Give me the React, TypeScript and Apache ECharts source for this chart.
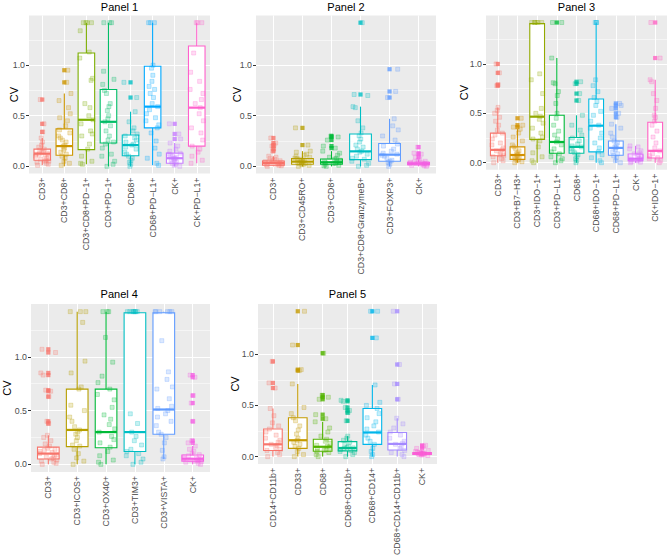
import React, { useEffect, useRef } from "react";
import * as echarts from "echarts";

// ---------------- DATA ----------------
// box stats: [lower whisker, Q1, median, Q3, upper whisker]
const P1_CATS = ["CD3+", "CD3+CD8+", "CD3+CD8+PD\u22121+", "CD3+PD\u22121+", "CD68+", "CD68+PD\u2212L1+", "CK+", "CK+PD\u2212L1+"];
const P1_BOX = [
  [0.01, 0.06, 0.125, 0.17, 0.28],
  [0.0, 0.11, 0.2, 0.37, 0.72],
  [0.02, 0.165, 0.46, 1.12, 1.42],
  [0.0, 0.23, 0.44, 0.76, 1.42],
  [0.0, 0.105, 0.21, 0.31, 0.54],
  [0.01, 0.38, 0.59, 0.99, 1.42],
  [0.0, 0.03, 0.08, 0.13, 0.23],
  [0.03, 0.2, 0.58, 1.19, 1.42],
];
const P1_OUT = [[0.34, 0.42, 0.66], [0.83, 0.95], [], [], [0.68, 0.83], [], [0.27, 0.32, 0.42], []];
const P1_PTS = [
  [0.01, 0.02, 0.03, 0.04, 0.05, 0.05, 0.06, 0.07, 0.08, 0.09, 0.1, 0.11, 0.12, 0.12, 0.13, 0.14, 0.15, 0.16, 0.17, 0.19, 0.21, 0.24, 0.28, 0.34, 0.42, 0.66],
  [0.01, 0.03, 0.05, 0.08, 0.1, 0.12, 0.14, 0.16, 0.18, 0.2, 0.21, 0.24, 0.26, 0.28, 0.3, 0.33, 0.36, 0.4, 0.45, 0.48, 0.52, 0.58, 0.65, 0.72, 0.83, 0.95],
  [0.02, 0.03, 0.05, 0.1, 0.17, 0.22, 0.3, 0.32, 0.35, 0.42, 0.46, 0.5, 0.58, 0.62, 0.85, 0.87, 1.07, 1.13, 1.34, 1.42, 1.42, 1.42, 1.42],
  [0.0, 0.02, 0.05, 0.1, 0.12, 0.18, 0.22, 0.24, 0.26, 0.3, 0.35, 0.4, 0.44, 0.47, 0.5, 0.55, 0.59, 0.62, 0.72, 0.75, 0.81, 0.86, 0.94, 1.42, 1.42, 1.42],
  [0.0, 0.02, 0.04, 0.06, 0.08, 0.1, 0.12, 0.14, 0.17, 0.19, 0.21, 0.22, 0.24, 0.26, 0.28, 0.3, 0.32, 0.35, 0.38, 0.44, 0.54, 0.68, 0.83],
  [0.01, 0.03, 0.08, 0.12, 0.18, 0.25, 0.33, 0.38, 0.41, 0.45, 0.48, 0.52, 0.56, 0.59, 0.62, 0.68, 0.72, 0.76, 0.79, 0.84, 0.9, 0.97, 1.0, 1.42, 1.42, 1.42],
  [0.0, 0.01, 0.02, 0.03, 0.04, 0.05, 0.06, 0.07, 0.08, 0.08, 0.09, 0.1, 0.11, 0.12, 0.13, 0.15, 0.17, 0.2, 0.23, 0.27, 0.32, 0.42],
  [0.03, 0.06, 0.1, 0.14, 0.17, 0.2, 0.26, 0.33, 0.38, 0.45, 0.52, 0.58, 0.62, 0.66, 0.72, 0.76, 0.84, 0.93, 1.12, 1.42, 1.42, 1.42],
];

const P2_CATS = ["CD3+", "CD3+CD45RO+", "CD3+CD8+", "CD3+CD8+GranzymeB+", "CD3+FOXP3+", "CK+"];
const P2_BOX = [
  [0.0, 0.01, 0.033, 0.053, 0.1],
  [0.0, 0.02, 0.046, 0.076, 0.15],
  [0.0, 0.02, 0.04, 0.072, 0.15],
  [0.0, 0.066, 0.148, 0.32, 0.59],
  [0.0, 0.05, 0.115, 0.225, 0.47],
  [0.0, 0.016, 0.026, 0.04, 0.07],
];
const P2_OUT = [[0.15, 0.17, 0.2, 0.21, 0.23, 0.28], [0.21, 0.38], [0.18, 0.2, 0.26, 0.29, 0.3], [0.71, 1.42], [0.68, 0.74, 0.96], [0.09, 0.12, 0.13, 0.19]];
const P2_PTS = [
  [0.0, 0.005, 0.01, 0.015, 0.02, 0.02, 0.025, 0.03, 0.03, 0.035, 0.04, 0.04, 0.045, 0.05, 0.055, 0.06, 0.07, 0.08, 0.09, 0.1, 0.15, 0.17, 0.2, 0.21, 0.23, 0.28],
  [0.0, 0.01, 0.015, 0.02, 0.025, 0.03, 0.035, 0.04, 0.045, 0.05, 0.055, 0.06, 0.07, 0.075, 0.08, 0.09, 0.1, 0.11, 0.12, 0.14, 0.15, 0.21, 0.38],
  [0.0, 0.005, 0.01, 0.02, 0.025, 0.03, 0.035, 0.04, 0.045, 0.05, 0.06, 0.07, 0.08, 0.09, 0.11, 0.13, 0.15, 0.18, 0.2, 0.26, 0.29, 0.3],
  [0.0, 0.01, 0.03, 0.05, 0.07, 0.08, 0.1, 0.12, 0.14, 0.15, 0.17, 0.19, 0.21, 0.24, 0.27, 0.3, 0.33, 0.38, 0.45, 0.58, 0.59, 0.7, 0.71, 1.42],
  [0.0, 0.02, 0.04, 0.05, 0.06, 0.08, 0.1, 0.11, 0.12, 0.13, 0.15, 0.17, 0.2, 0.22, 0.26, 0.3, 0.36, 0.4, 0.47, 0.68, 0.74, 0.96],
  [0.0, 0.005, 0.01, 0.015, 0.02, 0.02, 0.025, 0.025, 0.03, 0.03, 0.035, 0.04, 0.045, 0.05, 0.06, 0.07, 0.09, 0.12, 0.13, 0.19],
];

const P3_CATS = ["CD3+", "CD3+B7\u2212H3+", "CD3+IDO\u22121+", "CD3+PD\u2212L1+", "CD68+", "CD68+IDO\u22121+", "CD68+PD\u2212L1+", "CK+", "CK+IDO\u22121+"];
const P3_BOX = [
  [0.0, 0.07, 0.13, 0.3, 0.56],
  [0.0, 0.034, 0.078, 0.16, 0.34],
  [0.0, 0.236, 0.466, 1.41, 1.42],
  [0.0, 0.095, 0.21, 0.48, 1.06],
  [0.0, 0.095, 0.16, 0.255, 0.48],
  [0.0, 0.11, 0.375, 0.645, 1.42],
  [0.0, 0.075, 0.15, 0.22, 0.39],
  [0.0, 0.02, 0.04, 0.088, 0.17],
  [0.0, 0.047, 0.12, 0.41, 0.84],
];
const P3_OUT = [[0.78, 0.79, 0.91, 1.0], [0.36, 0.38, 0.45], [], [1.42], [0.63, 0.7, 0.8, 0.82], [], [0.46, 0.5, 0.55, 0.58, 0.6], [], [1.06, 1.42]];
const P3_PTS = [
  [0.0, 0.02, 0.04, 0.06, 0.07, 0.08, 0.1, 0.12, 0.13, 0.15, 0.18, 0.2, 0.24, 0.28, 0.3, 0.33, 0.38, 0.42, 0.46, 0.5, 0.53, 0.56, 0.78, 0.79, 0.91, 1.0],
  [0.0, 0.01, 0.02, 0.03, 0.04, 0.05, 0.06, 0.07, 0.08, 0.09, 0.1, 0.12, 0.14, 0.16, 0.18, 0.22, 0.26, 0.3, 0.34, 0.36, 0.38, 0.45],
  [0.0, 0.02, 0.06, 0.1, 0.16, 0.22, 0.24, 0.26, 0.3, 0.35, 0.4, 0.44, 0.47, 0.5, 0.55, 0.7, 0.84, 0.9, 1.42, 1.42, 1.42, 1.42, 1.42, 1.42],
  [0.0, 0.02, 0.04, 0.06, 0.09, 0.11, 0.14, 0.18, 0.21, 0.24, 0.28, 0.32, 0.38, 0.45, 0.5, 0.6, 0.68, 0.72, 0.8, 0.81, 1.06, 1.42, 1.42],
  [0.0, 0.02, 0.04, 0.06, 0.08, 0.1, 0.12, 0.14, 0.16, 0.17, 0.19, 0.22, 0.25, 0.28, 0.33, 0.38, 0.48, 0.63, 0.7, 0.8, 0.82],
  [0.0, 0.02, 0.05, 0.08, 0.11, 0.15, 0.2, 0.25, 0.3, 0.35, 0.38, 0.42, 0.48, 0.52, 0.58, 0.62, 0.66, 0.72, 0.78, 0.84, 1.42, 1.42, 1.42],
  [0.0, 0.02, 0.05, 0.07, 0.09, 0.11, 0.13, 0.15, 0.16, 0.18, 0.2, 0.22, 0.26, 0.3, 0.35, 0.39, 0.46, 0.5, 0.55, 0.58, 0.6],
  [0.0, 0.005, 0.01, 0.02, 0.025, 0.03, 0.035, 0.04, 0.05, 0.06, 0.07, 0.08, 0.09, 0.1, 0.12, 0.14, 0.16, 0.17],
  [0.0, 0.02, 0.04, 0.05, 0.07, 0.09, 0.12, 0.15, 0.2, 0.26, 0.32, 0.38, 0.42, 0.46, 0.48, 0.55, 0.63, 0.7, 0.82, 0.84, 1.06, 1.42],
];

const P4_CATS = ["CD3+", "CD3+ICOS+", "CD3+OX40+", "CD3+TIM3+", "CD3+VISTA+", "CK+"];
const P4_BOX = [
  [0.0, 0.05, 0.1, 0.16, 0.27],
  [0.0, 0.165, 0.32, 0.7, 1.42],
  [0.0, 0.155, 0.3, 0.7, 1.42],
  [0.0, 0.12, 0.3, 1.41, 1.42],
  [0.05, 0.28, 0.51, 1.41, 1.42],
  [0.0, 0.03, 0.052, 0.087, 0.17],
];
const P4_OUT = [[0.38, 0.4, 0.63, 0.68, 0.69, 0.83, 0.85, 1.04, 1.07], [], [], [], [], [0.2, 0.22, 0.4, 0.57, 0.64, 0.81, 0.83]];
const P4_PTS = [
  [0.0, 0.01, 0.02, 0.03, 0.04, 0.05, 0.06, 0.07, 0.08, 0.09, 0.1, 0.11, 0.12, 0.13, 0.14, 0.15, 0.17, 0.19, 0.22, 0.25, 0.27, 0.38, 0.4, 0.63, 0.68, 0.69, 0.83, 0.85, 1.04, 1.07],
  [0.0, 0.03, 0.06, 0.1, 0.14, 0.17, 0.18, 0.22, 0.25, 0.28, 0.3, 0.32, 0.35, 0.4, 0.44, 0.5, 0.55, 0.7, 0.72, 0.85, 0.96, 1.32, 1.42, 1.42, 1.42],
  [0.0, 0.02, 0.04, 0.08, 0.12, 0.16, 0.2, 0.23, 0.26, 0.3, 0.33, 0.37, 0.42, 0.46, 0.53, 0.6, 0.65, 0.7, 0.76, 0.82, 0.95, 1.18, 1.42, 1.42, 1.42],
  [0.0, 0.02, 0.05, 0.08, 0.1, 0.12, 0.14, 0.18, 0.22, 0.26, 0.3, 0.38, 0.47, 1.42, 1.42, 1.42, 1.42, 1.42, 1.42, 1.42, 1.42],
  [0.05, 0.07, 0.13, 0.2, 0.25, 0.28, 0.3, 0.36, 0.4, 0.44, 0.47, 0.5, 0.52, 0.54, 0.61, 0.7, 0.72, 0.79, 0.86, 1.15, 1.42, 1.42, 1.42, 1.42, 1.42, 1.42],
  [0.0, 0.01, 0.02, 0.025, 0.03, 0.035, 0.04, 0.045, 0.05, 0.055, 0.06, 0.07, 0.08, 0.09, 0.1, 0.12, 0.14, 0.17, 0.2, 0.22, 0.4, 0.57, 0.64, 0.81, 0.83],
];

const P5_CATS = ["CD14+CD11b+", "CD33+", "CD68+", "CD68+CD11b+", "CD68+CD14+", "CD68+CD14+CD11b+", "CK+"];
const P5_BOX = [
  [0.0, 0.06, 0.12, 0.27, 0.47],
  [0.0, 0.08, 0.16, 0.38, 0.71],
  [0.0, 0.053, 0.096, 0.17, 0.34],
  [0.0, 0.056, 0.084, 0.146, 0.2],
  [0.0, 0.12, 0.236, 0.47, 0.7],
  [0.0, 0.065, 0.124, 0.236, 0.375],
  [0.01, 0.022, 0.03, 0.04, 0.06],
];
const P5_OUT = [[0.67, 0.72, 0.93], [0.84, 0.85, 1.09, 1.42], [0.37, 0.41, 0.56, 0.58, 0.6, 1.01], [0.35, 0.43, 0.45, 0.48, 0.54, 0.55], [1.16, 1.42], [0.56, 0.71, 0.9, 1.42], [0.08, 0.1, 0.11]];
const P5_PTS = [
  [0.0, 0.02, 0.04, 0.06, 0.07, 0.09, 0.11, 0.12, 0.14, 0.16, 0.18, 0.21, 0.24, 0.27, 0.3, 0.33, 0.4, 0.47, 0.67, 0.72, 0.93],
  [0.0, 0.02, 0.05, 0.08, 0.1, 0.12, 0.14, 0.16, 0.18, 0.22, 0.26, 0.3, 0.35, 0.38, 0.42, 0.48, 0.71, 0.84, 0.85, 1.09, 1.42],
  [0.0, 0.02, 0.04, 0.05, 0.06, 0.07, 0.08, 0.09, 0.1, 0.11, 0.13, 0.15, 0.17, 0.2, 0.24, 0.28, 0.34, 0.37, 0.41, 0.56, 0.58, 0.6, 1.01],
  [0.0, 0.02, 0.04, 0.05, 0.06, 0.07, 0.08, 0.085, 0.09, 0.1, 0.12, 0.14, 0.16, 0.18, 0.2, 0.35, 0.43, 0.45, 0.48, 0.54, 0.55],
  [0.0, 0.02, 0.05, 0.08, 0.12, 0.15, 0.18, 0.21, 0.24, 0.27, 0.3, 0.34, 0.38, 0.42, 0.47, 0.5, 0.53, 0.7, 1.16, 1.42, 1.42],
  [0.0, 0.02, 0.04, 0.06, 0.08, 0.1, 0.12, 0.13, 0.15, 0.18, 0.21, 0.24, 0.28, 0.32, 0.375, 0.56, 0.71, 0.9, 1.42],
  [0.01, 0.015, 0.02, 0.02, 0.025, 0.025, 0.03, 0.03, 0.03, 0.035, 0.035, 0.04, 0.045, 0.05, 0.06, 0.08, 0.1, 0.11],
];

const Y_TICKS = [0, 0.5, 1.0];
const Y_MINOR = [0.25, 0.75, 1.25];

// fixed horizontal jitter offsets (in category units)
const JITTER = [-0.21, 0.13, -0.05, 0.27, -0.28, 0.02, 0.19, -0.14, 0.08, -0.24, 0.23, -0.09, 0.3, -0.02, -0.18, 0.11, 0.04, -0.26, 0.16, -0.11, 0.25, -0.07, 0.09, -0.22, 0.21, -0.16, 0.06, 0.28, -0.03, 0.14, -0.3, 0.01];

// ---------------- STYLE ----------------
const HUE: Record<number, string[]> = {
  6: ["#F8766D", "#B79F00", "#00BA38", "#00BFC4", "#619CFF", "#F564E3"],
  7: ["#F8766D", "#C49A00", "#53B400", "#00C094", "#00B6EB", "#A58AFF", "#FB61D7"],
  8: ["#F8766D", "#CD9600", "#7CAE00", "#00BE67", "#00BFC4", "#00A9FF", "#C77CFF", "#FF61CC"],
  9: ["#F8766D", "#D39200", "#93AA00", "#00BA38", "#00C19F", "#00B9E3", "#619CFF", "#DB72FB", "#FF61C3"],
};
const FONT = "Liberation Sans, Arial, Helvetica, sans-serif";

const PANELS = [
  { title: "Panel 1", cats: P1_CATS, box: P1_BOX, out: P1_OUT, pts: P1_PTS, left: 29, top: 15.5, width: 181, height: 158, titleY: 7, nameGap: 10 },
  { title: "Panel 2", cats: P2_CATS, box: P2_BOX, out: P2_OUT, pts: P2_PTS, left: 256, top: 15.5, width: 180, height: 158, titleY: 7, nameGap: 14 },
  { title: "Panel 3", cats: P3_CATS, box: P3_BOX, out: P3_OUT, pts: P3_PTS, left: 486, top: 15.5, width: 181, height: 154.2, titleY: 7, nameGap: 17 },
  { title: "Panel 4", cats: P4_CATS, box: P4_BOX, out: P4_OUT, pts: P4_PTS, left: 28.5, top: 304, width: 181.5, height: 168, titleY: 294, nameGap: 19 },
  { title: "Panel 5", cats: P5_CATS, box: P5_BOX, out: P5_OUT, pts: P5_PTS, left: 258, top: 304, width: 179, height: 168, titleY: 294, nameGap: 18 },
];

function rgba(hex: string, a: number) {
  const n = parseInt(hex.slice(1), 16);
  return `rgba(${(n >> 16) & 255},${(n >> 8) & 255},${n & 255},${a})`;
}

function buildOption() {
  const grid: any[] = [];
  const xAxis: any[] = [];
  const yAxis: any[] = [];
  const series: any[] = [];
  const graphic: any[] = [];

  PANELS.forEach((p, gi) => {
    const n = p.cats.length;
    const colors = HUE[n];
    const idx = p.cats.map((_, i) => i + 1);
    grid.push({ left: p.left, top: p.top, width: p.width, height: p.height, show: true, backgroundColor: "#EBEBEB", borderWidth: 0 });
    xAxis.push({
      type: "value", gridIndex: gi, min: 0.4, max: n + 0.6,
      axisLine: { show: false }, splitLine: { show: false },
      axisTick: { show: true, length: 3, customValues: idx, lineStyle: { color: "#333333", width: 1 } },
      axisLabel: {
        customValues: idx, rotate: 90, margin: 4, fontSize: 8.8, color: "#4D4D4D", fontFamily: FONT,
        formatter: (v: number) => p.cats[Math.round(v) - 1] ?? "",
      },
    });
    yAxis.push({
      type: "value", gridIndex: gi, min: -0.071, max: 1.491,
      axisLine: { show: false }, splitLine: { show: false },
      axisTick: { show: true, length: 3, customValues: Y_TICKS, lineStyle: { color: "#333333", width: 1 } },
      axisLabel: { customValues: Y_TICKS, margin: 4, fontSize: 8.8, color: "#4D4D4D", fontFamily: FONT, formatter: (v: number) => v.toFixed(1) },
      name: "CV", nameLocation: "middle", nameGap: p.nameGap, nameMoveOverlap: false,
      nameTextStyle: { fontSize: 11, color: "#000000", fontFamily: FONT },
    });

    // grid lines
    series.push({
      type: "scatter", xAxisIndex: gi, yAxisIndex: gi, silent: true, z: 1,
      data: [[1, 0]], symbolSize: 0, itemStyle: { opacity: 0 },
      markLine: {
        silent: true, z: 1, symbol: ["none", "none"], label: { show: false }, animation: false,
        lineStyle: { color: "#FFFFFF", type: "solid", width: 1.1 },
        emphasis: { disabled: true },
        data: [
          ...Y_TICKS.map((v) => ({ yAxis: v })),
          ...Y_MINOR.map((v) => ({ yAxis: v, lineStyle: { color: "#FFFFFF", type: "solid", width: 0.5 } })),
          ...idx.map((v) => ({ xAxis: v })),
        ],
      },
    });

    // boxes
    series.push({
      type: "custom", xAxisIndex: gi, yAxisIndex: gi, z: 2, silent: true,
      encode: { x: 0, y: [1, 2, 3, 4, 5] },
      data: p.box.map((b, i) => [i + 1, ...b, i]),
      renderItem: (_params: any, api: any) => {
        const x = api.value(0);
        const c = colors[api.value(6)];
        const lo = api.coord([x, api.value(1)]);
        const q1 = api.coord([x, api.value(2)]);
        const md = api.coord([x, api.value(3)]);
        const q3 = api.coord([x, api.value(4)]);
        const hi = api.coord([x, api.value(5)]);
        const w = api.size([0.75, 0])[0];
        const cx = lo[0];
        return {
          type: "group",
          children: [
            { type: "line", shape: { x1: cx, y1: lo[1], x2: cx, y2: q1[1] }, style: { stroke: c, lineWidth: 1.1 } },
            { type: "line", shape: { x1: cx, y1: q3[1], x2: cx, y2: hi[1] }, style: { stroke: c, lineWidth: 1.1 } },
            { type: "rect", shape: { x: cx - w / 2, y: q3[1], width: w, height: q1[1] - q3[1] }, style: { fill: "#FFFFFF", stroke: c, lineWidth: 1.1 } },
            { type: "line", shape: { x1: cx - w / 2, y1: md[1], x2: cx + w / 2, y2: md[1] }, style: { stroke: c, lineWidth: 2.2 } },
          ],
        };
      },
    });

    // outliers (solid)
    const outData: any[] = [];
    p.out.forEach((arr, i) => arr.forEach((v) => outData.push({ value: [i + 1, v], itemStyle: { color: colors[i] } })));
    series.push({
      type: "scatter", xAxisIndex: gi, yAxisIndex: gi, z: 3, silent: true,
      symbol: "rect", symbolSize: 4.2, data: outData,
    });

    // jittered points
    const ptData: any[] = [];
    p.pts.forEach((arr, i) =>
      arr.forEach((v, k) => {
        const j = JITTER[(k * 3 + i * 7) % JITTER.length];
        ptData.push({ value: [i + 1 + j, v], itemStyle: { color: rgba(colors[i], 0.28), borderColor: rgba(colors[i], 0.55), borderWidth: 0.6 } });
      })
    );
    series.push({
      type: "scatter", xAxisIndex: gi, yAxisIndex: gi, z: 4, silent: true,
      symbol: "rect", symbolSize: 4, data: ptData,
    });

    graphic.push({
      type: "text", x: p.left + p.width / 2, y: p.titleY,
      style: { text: p.title, fontSize: 11, fontFamily: FONT, fill: "#000000", textAlign: "center", textVerticalAlign: "middle" },
    });
  });

  return { animation: false, backgroundColor: "#FFFFFF", grid, xAxis, yAxis, series, graphic };
}

export default function App() {
  const ref = useRef<HTMLDivElement>(null);
  useEffect(() => {
    if (!ref.current) return;
    const chart = echarts.init(ref.current, undefined, { renderer: "svg" });
    chart.setOption(buildOption() as any);
    return () => chart.dispose();
  }, []);
  return <div ref={ref} style={{ position: "absolute", left: 0, top: 0, width: 669, height: 558 }} />;
}
